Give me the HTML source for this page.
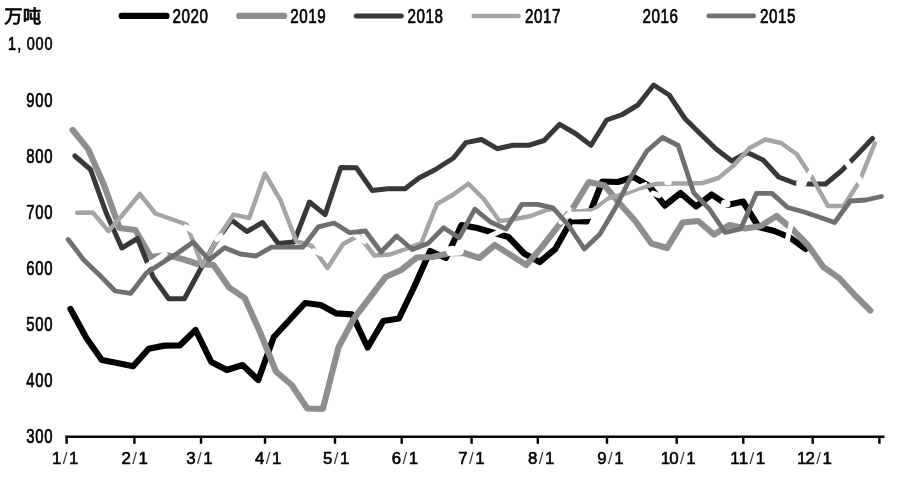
<!DOCTYPE html>
<html lang="zh"><head><meta charset="utf-8"><title>万吨</title>
<style>html,body{margin:0;padding:0;background:#fff}body{width:900px;height:477px;overflow:hidden}svg{display:block}text{font-family:"Liberation Sans","Noto Sans CJK SC",sans-serif;fill:#000}</style>
</head><body>
<svg width="900" height="477" viewBox="0 0 900 477">
<rect width="900" height="477" fill="#fff"/>
<g stroke="#000" stroke-width="2.4" fill="none" stroke-linecap="butt">
<path d="M65.2 436.7 H884.5"/>
<path d="M66.6 436.7 V443.8"/>
<path d="M134.4 436.7 V443.8"/>
<path d="M201.0 436.7 V443.8"/>
<path d="M265.0 436.7 V443.8"/>
<path d="M335.0 436.7 V443.8"/>
<path d="M401.7 436.7 V443.8"/>
<path d="M471.6 436.7 V443.8"/>
<path d="M537.8 436.7 V443.8"/>
<path d="M607.0 436.7 V443.8"/>
<path d="M676.7 436.7 V443.8"/>
<path d="M743.3 436.7 V443.8"/>
<path d="M812.7 436.7 V443.8"/>
<path d="M879.4 436.7 V443.8"/>
</g>
<g fill="none" stroke-linejoin="round" stroke-linecap="round">
<path stroke="#000000" stroke-width="6.2" d="M70.5 309.0 L86.1 337.5 L101.8 360.0 L117.4 363.0 L133.1 366.3 L148.7 348.7 L164.3 345.6 L180.0 345.3 L195.6 330.0 L211.3 362.0 L226.9 370.0 L242.5 365.0 L258.2 380.0 L273.8 337.0 L289.5 320.0 L305.1 303.0 L320.7 305.0 L336.4 313.4 L352.0 314.3 L367.7 347.5 L383.3 321.0 L398.9 318.5 L414.6 286.0 L430.2 251.0 L445.9 258.0 L461.5 225.0 L477.1 228.0 L492.8 232.5 L508.4 237.0 L524.1 253.5 L539.7 262.0 L555.3 249.0 L571.0 221.0 L586.6 221.5 L602.3 181.5 L617.9 182.0 L633.5 177.0 L649.2 186.0 L664.8 205.5 L680.5 193.0 L696.1 206.5 L711.7 194.5 L727.4 205.0 L743.0 201.5 L758.7 227.0 L774.3 231.0 L789.9 237.5 L805.6 249.0"/>
<path stroke="#8e8e8e" stroke-width="6.2" d="M72.7 130.0 L88.3 149.4 L104.0 185.0 L119.6 228.0 L135.3 230.0 L150.9 257.0 L166.5 255.0 L182.2 259.0 L197.8 264.0 L213.5 265.0 L229.1 287.5 L244.7 298.0 L260.4 333.0 L276.0 371.5 L291.7 385.0 L307.3 408.5 L322.9 408.8 L338.6 347.0 L354.2 318.0 L369.9 297.5 L385.5 277.0 L401.1 270.0 L416.8 257.5 L432.4 257.0 L448.1 253.5 L463.7 253.0 L479.3 258.0 L495.0 245.0 L510.6 255.0 L526.3 265.0 L541.9 247.0 L557.5 227.0 L573.2 207.5 L588.8 182.0 L604.5 185.5 L620.1 204.0 L635.7 221.5 L651.4 243.5 L667.0 248.0 L682.7 222.5 L698.3 221.0 L713.9 234.5 L729.6 225.0 L745.2 228.5 L760.9 226.0 L776.5 216.0 L792.1 229.0 L807.8 245.0 L823.4 267.0 L839.1 278.0 L854.7 295.0 L870.3 310.5"/>
<path stroke="#383838" stroke-width="5.0" d="M74.9 156.0 L90.5 169.5 L106.2 213.0 L121.8 248.0 L137.5 238.5 L153.1 277.0 L168.7 298.7 L184.4 298.7 L200.0 270.0 L215.7 242.0 L231.3 220.0 L246.9 231.5 L262.6 222.5 L278.2 243.5 L293.9 242.0 L309.5 202.0 L325.1 214.6 L340.8 167.5 L356.4 167.8 L372.1 190.4 L387.7 188.7 L405.0 188.7 L419.0 178.0 L434.6 170.0 L453.5 158.0 L465.9 142.6 L481.5 139.5 L497.2 148.7 L512.8 145.3 L528.5 145.3 L544.1 140.5 L559.7 124.3 L575.4 133.5 L591.0 145.3 L606.7 120.0 L622.3 114.5 L637.9 105.0 L653.6 85.0 L669.2 95.0 L684.9 118.5 L700.5 134.0 L716.1 149.0 L731.8 161.0 L747.4 152.5 L763.1 160.0 L778.7 177.0 L794.3 183.0 L810.0 184.0 L825.6 184.0 L841.3 171.0 L856.9 155.0 L872.5 138.5"/>
<path stroke="#a5a5a5" stroke-width="4.5" d="M77.2 212.8 L92.8 212.5 L108.5 231.1 L124.1 213.0 L139.8 194.0 L155.4 213.5 L171.0 219.0 L186.7 224.5 L202.3 266.0 L218.0 238.0 L233.6 214.6 L249.2 218.0 L264.9 173.5 L280.5 200.3 L296.2 241.0 L311.8 246.0 L327.4 268.0 L343.1 244.0 L358.7 235.5 L374.4 255.5 L390.0 254.5 L405.6 249.0 L421.3 243.0 L436.9 204.0 L452.6 195.0 L468.2 183.7 L483.8 199.0 L499.5 221.0 L515.1 219.0 L530.8 216.0 L546.4 210.0 L562.0 208.0 L577.7 211.5 L593.3 210.0 L609.0 198.0 L624.6 194.0 L640.2 188.0 L655.9 184.0 L671.5 183.5 L687.2 183.5 L702.8 183.0 L718.4 178.0 L734.1 165.0 L749.7 148.0 L765.4 139.5 L781.0 143.0 L796.6 154.0 L812.3 178.0 L827.9 206.0 L843.6 206.0 L859.2 182.0 L874.8 143.5"/>
<path stroke="#ffffff" stroke-width="2.6" d="M628.0 190.0 L646.0 183.3"/>
<path stroke="#ffffff" stroke-width="3.6" d="M589.0 214.5 L598.5 210.6 L608.5 202.6"/>
<path stroke="#ffffff" stroke-width="4.6" d="M666.5 182.8 L669.5 182.8"/>
<path stroke="#ffffff" stroke-width="5.0" d="M447.5 249.0 L453.0 248.3"/>
<path stroke="#ffffff" stroke-width="5.2" d="M144.0 268.0 L165.0 254.0 M186.0 227.0 L193.0 231.0 M217.0 239.5 L221.0 235.5 M314.0 251.0 L322.0 254.0 M355.5 235.0 L364.5 241.5 M490.0 236.0 L503.0 230.0 M553.0 207.0 L569.0 209.0 M561.0 222.0 L570.0 213.0 M653.0 193.2 L659.0 195.5 M786.5 244.0 L792.0 220.0 L796.0 190.0 M806.0 180.0 L812.0 170.0"/>
<path stroke="#ffffff" stroke-width="6.4" d="M843.0 157.0 L863.0 185.0"/>
<path stroke="#ffffff" stroke-width="6.8" d="M799.6 183.5 L803.4 183.3"/>
<path stroke="#ffffff" stroke-width="7.0" d="M724.3 203.4 L727.0 204.0"/>
<path stroke="#ffffff" stroke-width="7.6" d="M573.5 215.6 L589.0 215.2"/>
<path stroke="#ffffff" stroke-width="8.5" d="M450.5 251.8 L459.5 251.2"/>
<path stroke="#6f6f6f" stroke-width="4.8" d="M68.2 239.5 L83.8 260.0 L99.5 275.0 L115.1 291.0 L130.8 293.3 L146.4 273.0 L162.0 263.0 L177.7 253.0 L193.3 242.0 L209.0 260.0 L224.6 247.7 L240.2 254.0 L255.9 256.0 L271.5 247.2 L287.2 247.2 L302.8 247.2 L318.4 226.8 L334.1 223.0 L349.7 232.7 L365.4 231.0 L381.0 252.0 L396.6 236.0 L412.3 249.5 L427.9 243.6 L443.6 227.7 L459.2 237.8 L474.8 209.2 L490.5 222.0 L506.1 229.0 L521.8 204.4 L537.4 204.4 L553.0 207.8 L568.7 225.5 L584.3 249.0 L600.0 234.0 L615.6 207.5 L631.2 176.5 L646.9 151.0 L662.5 137.5 L678.2 145.5 L693.8 193.0 L709.4 209.0 L725.1 232.5 L740.7 228.8 L756.4 193.4 L772.0 193.4 L787.6 207.5 L803.3 211.8 L818.9 217.0 L834.6 222.5 L850.2 201.0 L865.8 200.0 L881.5 196.5"/>
</g>
<g fill="none" stroke-linecap="round">
<path stroke="#000000" stroke-width="6.2" d="M121.6 15.9 H166.5"/>
<path stroke="#8e8e8e" stroke-width="6.2" d="M239.2 15.9 H284.2"/>
<path stroke="#383838" stroke-width="5.0" d="M356.3 15.9 H401.3"/>
<path stroke="#a5a5a5" stroke-width="4.5" d="M473.6 15.9 H518.6"/>
<path stroke="#6f6f6f" stroke-width="4.8" d="M708.8 15.9 H753.6"/>
</g>
<g>
<text transform="scale(0.730,1)" x="242.19 254.52 266.85 279.18" y="22.9" font-size="20.8" text-anchor="middle" stroke="#000" stroke-width="0.70" stroke-linejoin="round">2020</text>
<text transform="scale(0.730,1)" x="403.42 415.75 428.08 440.41" y="22.9" font-size="20.8" text-anchor="middle" stroke="#000" stroke-width="0.70" stroke-linejoin="round">2019</text>
<text transform="scale(0.730,1)" x="564.11 576.44 588.77 601.10" y="22.9" font-size="20.8" text-anchor="middle" stroke="#000" stroke-width="0.70" stroke-linejoin="round">2018</text>
<text transform="scale(0.730,1)" x="725.07 737.40 749.73 762.05" y="22.9" font-size="20.8" text-anchor="middle" stroke="#000" stroke-width="0.70" stroke-linejoin="round">2017</text>
<text transform="scale(0.730,1)" x="886.03 898.36 910.68 923.01" y="22.9" font-size="20.8" text-anchor="middle" stroke="#000" stroke-width="0.70" stroke-linejoin="round">2016</text>
<text transform="scale(0.730,1)" x="1046.99 1059.32 1071.64 1083.97" y="22.9" font-size="20.8" text-anchor="middle" stroke="#000" stroke-width="0.70" stroke-linejoin="round">2015</text>
<text x="4.3" y="23.3" font-size="18.4" font-family="&quot;Noto Sans CJK SC&quot;,&quot;WenQuanYi Zen Hei&quot;,sans-serif" stroke="#000" stroke-width="0.75" stroke-linejoin="round">万吨</text>
<text transform="scale(0.730,1)" x="41.78 54.11 66.44" y="442.9" font-size="20.4" text-anchor="middle" stroke="#000" stroke-width="0.70" stroke-linejoin="round">300</text>
<text transform="scale(0.730,1)" x="41.78 54.11 66.44" y="386.9" font-size="20.4" text-anchor="middle" stroke="#000" stroke-width="0.70" stroke-linejoin="round">400</text>
<text transform="scale(0.730,1)" x="41.78 54.11 66.44" y="330.9" font-size="20.4" text-anchor="middle" stroke="#000" stroke-width="0.70" stroke-linejoin="round">500</text>
<text transform="scale(0.730,1)" x="41.78 54.11 66.44" y="274.9" font-size="20.4" text-anchor="middle" stroke="#000" stroke-width="0.70" stroke-linejoin="round">600</text>
<text transform="scale(0.730,1)" x="41.78 54.11 66.44" y="218.9" font-size="20.4" text-anchor="middle" stroke="#000" stroke-width="0.70" stroke-linejoin="round">700</text>
<text transform="scale(0.730,1)" x="41.78 54.11 66.44" y="162.9" font-size="20.4" text-anchor="middle" stroke="#000" stroke-width="0.70" stroke-linejoin="round">800</text>
<text transform="scale(0.730,1)" x="41.78 54.11 66.44" y="106.9" font-size="20.4" text-anchor="middle" stroke="#000" stroke-width="0.70" stroke-linejoin="round">900</text>
<text transform="scale(0.752,1)" x="15.96 25.54 40.83 52.67 64.50" y="49.8" font-size="19.2" text-anchor="middle" stroke="#000" stroke-width="0.70" stroke-linejoin="round">1,000</text>
<text transform="scale(0.980,1)" x="57.86 66.53 75.20" y="464.3" font-size="17.2" text-anchor="middle" stroke="#000" stroke-width="0.60" stroke-linejoin="round">1<tspan stroke="none" fill="#3a3a3a">/</tspan>1</text>
<text transform="scale(0.980,1)" x="128.78 137.45 146.12" y="464.3" font-size="17.2" text-anchor="middle" stroke="#000" stroke-width="0.60" stroke-linejoin="round">2<tspan stroke="none" fill="#3a3a3a">/</tspan>1</text>
<text transform="scale(0.980,1)" x="194.80 203.47 212.14" y="464.3" font-size="17.2" text-anchor="middle" stroke="#000" stroke-width="0.60" stroke-linejoin="round">3<tspan stroke="none" fill="#3a3a3a">/</tspan>1</text>
<text transform="scale(0.980,1)" x="265.00 273.67 282.35" y="464.3" font-size="17.2" text-anchor="middle" stroke="#000" stroke-width="0.60" stroke-linejoin="round">4<tspan stroke="none" fill="#3a3a3a">/</tspan>1</text>
<text transform="scale(0.980,1)" x="334.29 342.96 351.63" y="464.3" font-size="17.2" text-anchor="middle" stroke="#000" stroke-width="0.60" stroke-linejoin="round">5<tspan stroke="none" fill="#3a3a3a">/</tspan>1</text>
<text transform="scale(0.980,1)" x="404.49 413.16 421.84" y="464.3" font-size="17.2" text-anchor="middle" stroke="#000" stroke-width="0.60" stroke-linejoin="round">6<tspan stroke="none" fill="#3a3a3a">/</tspan>1</text>
<text transform="scale(0.980,1)" x="472.35 481.02 489.69" y="464.3" font-size="17.2" text-anchor="middle" stroke="#000" stroke-width="0.60" stroke-linejoin="round">7<tspan stroke="none" fill="#3a3a3a">/</tspan>1</text>
<text transform="scale(0.980,1)" x="543.57 552.24 560.92" y="464.3" font-size="17.2" text-anchor="middle" stroke="#000" stroke-width="0.60" stroke-linejoin="round">8<tspan stroke="none" fill="#3a3a3a">/</tspan>1</text>
<text transform="scale(0.980,1)" x="614.18 622.86 631.53" y="464.3" font-size="17.2" text-anchor="middle" stroke="#000" stroke-width="0.60" stroke-linejoin="round">9<tspan stroke="none" fill="#3a3a3a">/</tspan>1</text>
<text transform="scale(0.980,1)" x="679.03 687.70 696.38 705.05" y="464.3" font-size="17.2" text-anchor="middle" stroke="#000" stroke-width="0.60" stroke-linejoin="round">10<tspan stroke="none" fill="#3a3a3a">/</tspan>1</text>
<text transform="scale(0.980,1)" x="749.95 758.62 767.30 775.97" y="464.3" font-size="17.2" text-anchor="middle" stroke="#000" stroke-width="0.60" stroke-linejoin="round">11<tspan stroke="none" fill="#3a3a3a">/</tspan>1</text>
<text transform="scale(0.980,1)" x="818.01 826.68 835.36 844.03" y="464.3" font-size="17.2" text-anchor="middle" stroke="#000" stroke-width="0.60" stroke-linejoin="round">12<tspan stroke="none" fill="#3a3a3a">/</tspan>1</text>
</g>
</svg></body></html>
